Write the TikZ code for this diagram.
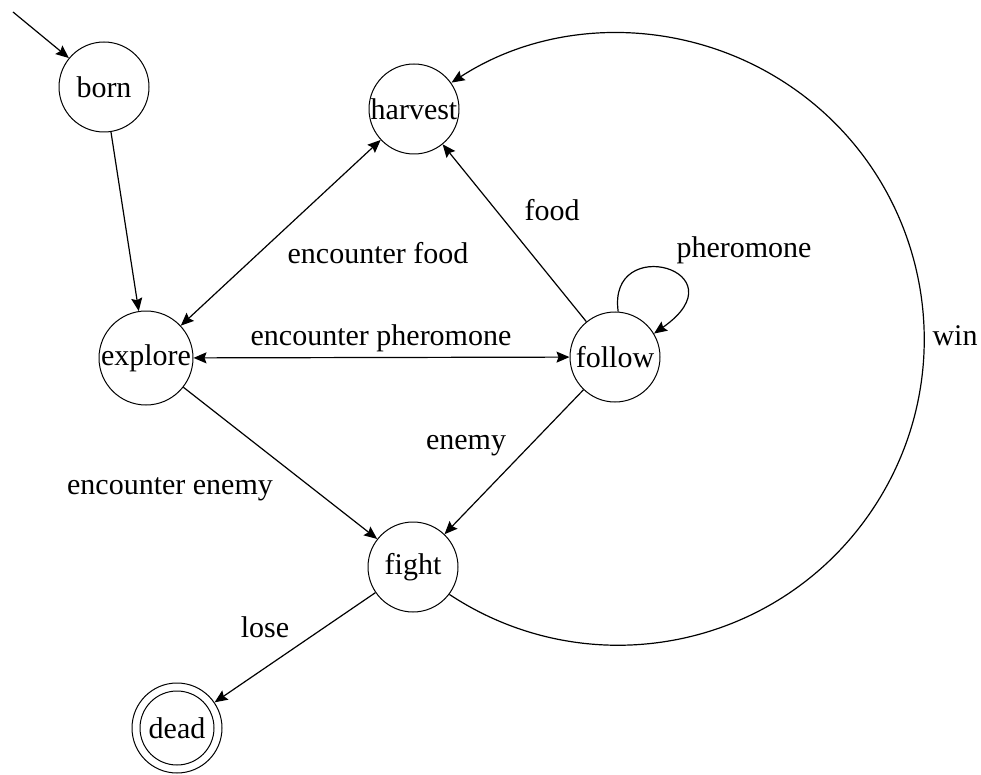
\documentclass[tikz,border=0pt]{standalone}
\usepackage{fontspec}
\setmainfont{Liberation Serif}
\usetikzlibrary{arrows.meta}
\begin{document}
\begin{tikzpicture}[x=1pt,y=1pt,
  state/.style={circle,draw,line width=1pt,minimum size=90pt,inner sep=0pt,font=\fontsize{30}{34}\selectfont},
  lbl/.style={inner sep=0pt,anchor=base,font=\fontsize{30}{34}\selectfont},
  edge/.style={line width=1.2pt,-{Stealth[length=13pt,width=11pt,inset=2pt]}},
  bedge/.style={line width=1.2pt,{Stealth[length=13pt,width=11pt,inset=2pt]}-{Stealth[length=13pt,width=11pt,inset=2pt]}}]
\useasboundingbox (0,0) rectangle (981,-775);
% states
\node[state] (born) at (104,-87) {born};
\node[state] (harvest) at (414,-109) {harvest};
\node[state] (explore) at (146,-358) {explore};
\node[state] (follow) at (615,-357) {follow};
\node[state] (fight) at (413,-567) {fight};
\node[state] (dead) at (177,-728) {dead};
\draw[line width=1pt] (dead.center) circle[radius=37pt];
\coordinate (init) at (13,-12);
% edges
\draw[edge] (init) -- (born);
\draw[edge] (born) -- (explore);
\draw[bedge] (explore) -- (harvest);
\draw[bedge] (explore) -- (follow);
\draw[edge] (follow) -- (harvest);
\draw[edge] (follow) -- (fight);
\draw[edge] (explore) -- (fight);
\draw[edge] (fight) -- (dead);
\draw[edge] (follow.86) .. controls +(98:80) and +(35:110) .. (follow.31);
\draw[edge] (fight.-37) arc[start angle=236.5, end angle=483, radius=306pt];
% labels
\node[lbl] (lfood1) at (378,-264) {encounter food};
\node[lbl] (lpher1) at (381,-345) {encounter pheromone};
\node[lbl] (lfood2) at (552,-221) {food};
\node[lbl] (lpher2) at (744,-258) {pheromone};
\node[lbl] (lwin) at (955,-345) {win};
\node[lbl] (lenemy) at (466,-449) {enemy};
\node[lbl] (lenc) at (170,-494) {encounter enemy};
\node[lbl] (llose) at (265,-637) {lose};
\end{tikzpicture}
\end{document}
